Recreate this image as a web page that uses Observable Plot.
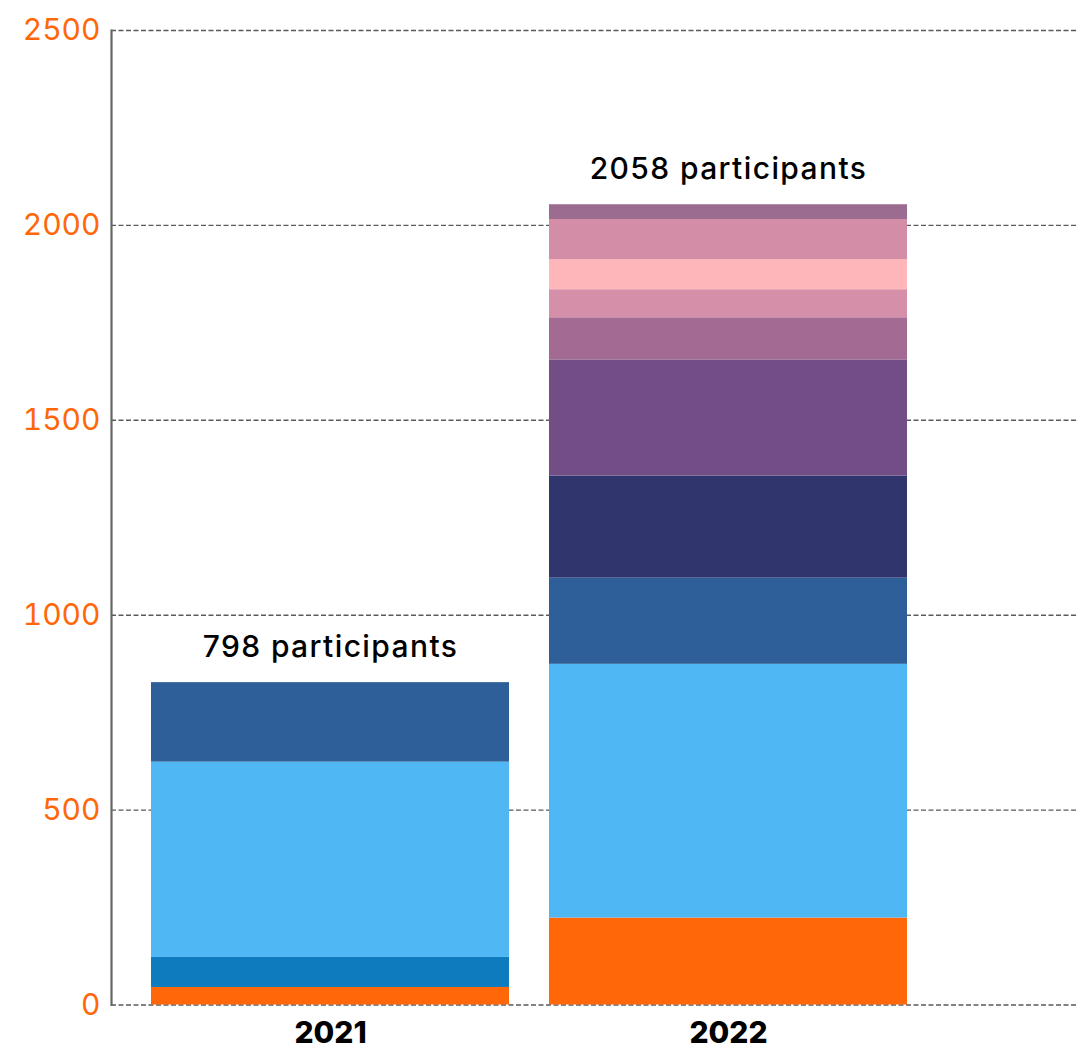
<!DOCTYPE html>
<html>
<head>
<meta charset="utf-8">
<script src="https://cdn.jsdelivr.net/npm/d3@7"></script>
<script src="https://cdn.jsdelivr.net/npm/@observablehq/plot@0.6"></script>
<style>
  html, body { margin: 0; padding: 0; background: #fff; }
  #chart svg { display: block; overflow: visible; }
</style>
</head>
<body>
<div id="chart"></div>
<script>
const years = ["2021", "2022"];
const series = ["s1", "s2", "s3", "s4", "s5", "s6", "s7", "s8", "s9", "s10", "s11"];
const colors = ["#FF6709", "#0D7BBD", "#4FB8F4", "#2E5F98", "#30356D", "#724D86",
                "#A36B94", "#D68FA8", "#FFB6BB", "#D38DA6", "#9B6C8F"];
const values2021 = [45, 77, 501, 204, 0, 0, 0, 0, 0, 0, 0];
const values2022 = [223, 0, 651, 221, 262, 298, 108, 72, 77, 103, 38];
const totalLabels = ["798 participants", "2058 participants"];
const yTicks = [0, 500, 1000, 1500, 2000, 2500];

const rows = [];
series.forEach((s, i) => {
  rows.push({year: years[0], series: s, value: values2021[i]});
  rows.push({year: years[1], series: s, value: values2022[i]});
});
const totals = years.map((y, j) => ({
  year: y,
  total: d3.sum(j === 0 ? values2021 : values2022),
  label: totalLabels[j]
}));

const W = 1077, H = 1051;
const chart = Plot.plot({
  width: W,
  height: H,
  marginLeft: 111,
  marginRight: 0,
  marginTop: 30,
  marginBottom: 46.5,
  style: {fontFamily: "Inter, sans-serif", background: "#fff"},
  x: {domain: years, range: [111, 948], padding: 0.1, label: null},
  y: {domain: [0, 2500], label: null},
  color: {domain: series, range: colors},
  marks: [
    Plot.gridY(yTicks, {stroke: "#5a5a5a", strokeOpacity: 1, strokeWidth: 1.4, strokeDasharray: "5,2.5"}),
    Plot.barY(rows, {x: "year", y: "value", fill: "series", inset: 0}),
    Plot.frame({anchor: "left", stroke: "#666", strokeWidth: 2.2}),
    Plot.axisY(yTicks, {tickSize: 0, tickPadding: 11, fontSize: 30, fill: "#FF6709", tickFormat: d => String(d)}),
    Plot.axisX({tickSize: 0, tickPadding: 17, fontSize: 30, fontWeight: 800, fill: "#000"}),
    Plot.text(totals, {x: "year", y: "total", text: "label", fontSize: 30, fontWeight: 500,
      fill: "#000", textAnchor: "middle", lineAnchor: "bottom", dy: -26})
  ]
});
d3.select(chart).selectAll("text")
  .filter(function() { return /participants/.test(this.textContent); })
  .style("letter-spacing", "1.4px");
document.getElementById("chart").appendChild(chart);
</script>
</body>
</html>
